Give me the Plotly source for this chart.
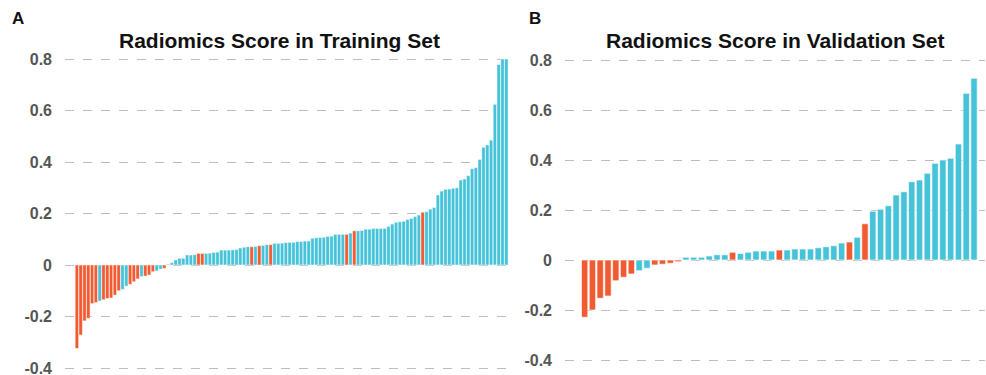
import plotly.graph_objects as go

# ---------------- data ----------------
train_scores = [
    -0.324, -0.272, -0.217, -0.207, -0.150, -0.146, -0.140, -0.135, -0.130, -0.128,
    -0.117, -0.100, -0.095, -0.082, -0.075, -0.065, -0.054, -0.045, -0.043, -0.039,
    -0.026, -0.023, -0.016, -0.013,
    0.003, 0.009, 0.020,
    0.026, 0.026, 0.039, 0.039, 0.040, 0.045, 0.045, 0.045, 0.046, 0.049,
    0.050, 0.058, 0.058, 0.058, 0.059, 0.060, 0.066, 0.069, 0.071, 0.071,
    0.072, 0.075, 0.076, 0.079, 0.079, 0.084, 0.084, 0.085, 0.087,
    0.088, 0.088, 0.091, 0.091, 0.093, 0.093, 0.104, 0.106, 0.107, 0.108,
    0.111, 0.112, 0.119, 0.119, 0.119, 0.119, 0.124, 0.133, 0.133, 0.134,
    0.139, 0.139, 0.142, 0.142, 0.142, 0.142, 0.150, 0.159, 0.166,
    0.168, 0.170, 0.177, 0.181, 0.188, 0.194, 0.205, 0.207, 0.217, 0.223,
    0.272, 0.287, 0.294, 0.295, 0.298, 0.300, 0.330, 0.334, 0.347, 0.374,
    0.378, 0.410, 0.457, 0.466, 0.485, 0.624, 0.779, 0.800, 0.800,
]
train_groups = (
    "RRRRRRBRRRRRBBRRRBRRRBBR"
    "BBB"
    "BBBBBRRBBBBBBBBBBBBRBRBBRBBBB"
    "BBBBBBBBBBBBBBBRBRBBBBBBBBBBB"
    "BBBBBBRBBBBBBBBBBBBBBBBBBBBBB"
)

valid_scores = [
    -0.229, -0.200, -0.153, -0.144, -0.083, -0.069, -0.056, -0.043, -0.033, -0.020,
    -0.017, -0.013, -0.007, 0.011, 0.011, 0.011, 0.016, 0.021, 0.021, 0.031,
    0.026, 0.031, 0.036, 0.036, 0.036, 0.040, 0.040, 0.044, 0.044, 0.044,
    0.049, 0.053, 0.057, 0.068, 0.072, 0.091, 0.145, 0.195, 0.203, 0.217,
    0.260, 0.273, 0.313, 0.320, 0.347, 0.387, 0.400, 0.407, 0.464, 0.667, 0.727,
]
valid_groups = (
    "RRRRRRRBBRRRRBBBBBBRBBBBBRBBBBBBBBRBRBBBBBBBBBBBBBB"
)

y_ticks = [-0.4, -0.2, 0, 0.2, 0.4, 0.6, 0.8]
y_tick_labels = ["<b>-0.4</b>", "<b>-0.2</b>", "<b>0</b>", "<b>0.2</b>",
                 "<b>0.4</b>", "<b>0.6</b>", "<b>0.8</b>"]

titles = ["Radiomics Score in Training Set", "Radiomics Score in Validation Set"]
panel_labels = ["A", "B"]

RED = "#F25A32"
BLUE = "#46C3D8"
cmap = {"R": RED, "B": BLUE}

fig = go.Figure()

fig.add_trace(go.Bar(
    x=list(range(len(train_scores))), y=train_scores,
    marker=dict(color=[cmap[g] for g in train_groups],
                line=dict(color="rgba(255,255,255,0.85)", width=0.6)),
    width=0.92, xaxis="x", yaxis="y", showlegend=False,
))
fig.add_trace(go.Bar(
    x=list(range(len(valid_scores))), y=valid_scores,
    marker=dict(color=[cmap[g] for g in valid_groups],
                line=dict(color="rgba(255,255,255,0.85)", width=0.8)),
    width=0.82, xaxis="x2", yaxis="y2", showlegend=False,
))

W, H = 986, 375
tickfont = dict(family="Liberation Sans, Arial, sans-serif", size=16, color="#555555")
grid = dict(showgrid=True, gridcolor="#BDBDBD", griddash="dash", gridwidth=1,
            zeroline=False, showline=False, ticks="", tickvals=y_ticks,
            ticktext=y_tick_labels, tickfont=tickfont, ticklabelstandoff=12,
            ticklabeloverflow="allow", automargin=False)

ydom = [(H - 372) / H, (H - 52) / H]

fig.update_layout(
    width=W, height=H,
    margin=dict(l=0, r=0, t=0, b=0, autoexpand=False),
    paper_bgcolor="white", plot_bgcolor="white",
    barmode="overlay",
    xaxis=dict(domain=[65 / W, 510 / W], range=[-3.13, 113.97], automargin=False,
               showticklabels=False, showgrid=False, zeroline=False, ticks=""),
    yaxis=dict(domain=ydom, range=[(265 - 372) / 257.5, (265 - 52) / 257.5],
               anchor="x", **grid),
    xaxis2=dict(domain=[565 / W, 985 / W], range=[-2.52, 51.41], anchor="y2",
                automargin=False,
                showticklabels=False, showgrid=False, zeroline=False, ticks=""),
    yaxis2=dict(domain=ydom, range=[(260 - 372) / 250.0, (260 - 52) / 250.0],
                anchor="x2", **grid),
)

title_font = dict(family="Liberation Sans, Arial, sans-serif", size=21, color="#111111")
for cx, t in zip([279, 775], titles):
    fig.add_annotation(x=cx / W, y=1 - 41 / H, xref="paper", yref="paper",
                       text="<b>" + t + "</b>", showarrow=False, font=title_font,
                       xanchor="center", yanchor="middle")

lab_font = dict(family="Liberation Sans, Arial, sans-serif", size=17, color="#111111")
for cx, t in zip([18, 535], panel_labels):
    fig.add_annotation(x=cx / W, y=1 - 18 / H, xref="paper", yref="paper",
                       text="<b>" + t + "</b>", showarrow=False, font=lab_font,
                       xanchor="center", yanchor="middle")

fig.write_html("out.html")
